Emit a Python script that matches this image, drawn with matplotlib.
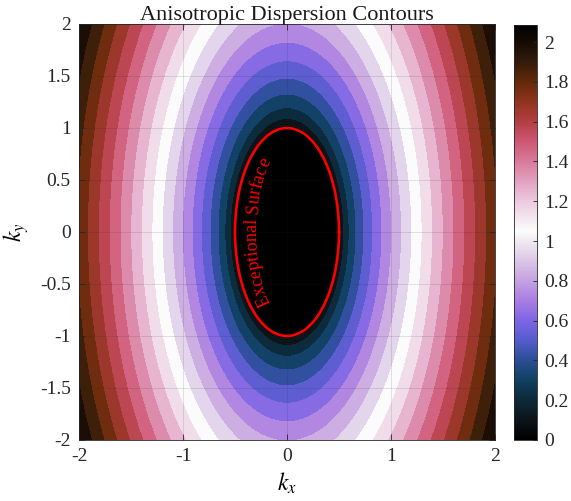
import numpy as np
import matplotlib
matplotlib.use("Agg")
import matplotlib.pyplot as plt
from matplotlib.colors import LinearSegmentedColormap, Normalize
from matplotlib.cm import ScalarMappable
from matplotlib.font_manager import FontProperties
from matplotlib.textpath import TextToPath

plt.rcParams["font.family"] = "Liberation Serif"
plt.rcParams["mathtext.fontset"] = "stix"
plt.rcParams["axes.unicode_minus"] = False

# dispersion surface: E = amp * sqrt((kx/a)^2 + (ky/b)^2 - 1), zero inside
k_lim = [-2, 2]
es_axes = [0.5, 1.0]  # exceptional surface semi-axes (kx, ky)
amp = 0.4786
n_levels = 20

x_ticks = [-2, -1, 0, 1, 2]
y_ticks = [-2, -1.5, -1, -0.5, 0, 0.5, 1, 1.5, 2]
cb_ticks = [0, 0.2, 0.4, 0.6, 0.8, 1, 1.2, 1.4, 1.6, 1.8, 2]

# colormap anchors
cmap_vals = [0.0, 0.10, 0.20, 0.30, 0.40, 0.50, 0.60, 0.70, 0.80, 0.90, 1.00,
             1.05, 1.10, 1.20, 1.30, 1.40, 1.50, 1.60, 1.70, 1.80, 1.90, 2.00, 2.086]
cmap_rgb = [(0, 0, 0), (12, 20, 26), (12, 42, 58), (16, 64, 98), (42, 78, 150),
            (85, 92, 205), (125, 102, 228), (170, 125, 226), (196, 162, 225),
            (218, 198, 230), (240, 234, 242), (252, 252, 252), (245, 235, 242),
            (236, 202, 222), (226, 162, 192), (217, 122, 156), (206, 88, 116),
            (180, 62, 68), (145, 52, 32), (100, 42, 10), (52, 28, 10),
            (22, 12, 5), (0, 0, 0)]

label_text = "Exceptional Surface"
label_axes = [0.29, 0.80]  # baseline ellipse for the curved label


kx = np.linspace(k_lim[0], k_lim[1], 500)
ky = np.linspace(k_lim[0], k_lim[1], 500)
KX, KY = np.meshgrid(kx, ky)
Z = amp * np.sqrt(np.maximum(0, (KX / es_axes[0]) ** 2 + (KY / es_axes[1]) ** 2 - 1))
zmax = Z.max()

cmap = LinearSegmentedColormap.from_list(
    "disp", [(v / cmap_vals[-1], np.array(c) / 255) for v, c in zip(cmap_vals, cmap_rgb)]
)
norm = Normalize(0, zmax)
levels = np.linspace(0, zmax, n_levels + 1)
band_colors = [cmap(norm(v)) for v in levels[:-1]]

W, H = 571, 501
fig = plt.figure(figsize=(W / 100, H / 100), dpi=100)
ax = fig.add_axes([79 / W, 61 / H, 416 / W, 416 / H])
cax = fig.add_axes([514 / W, 61 / H, 23 / W, 415 / H])

ax.contourf(KX, KY, Z, levels=levels, colors=band_colors, zorder=1)

t = np.linspace(0, 2 * np.pi, 400)
ax.plot(es_axes[0] * np.cos(t), es_axes[1] * np.sin(t), color="red", lw=1.9, zorder=3)

ax.set_xlim(k_lim)
ax.set_ylim(k_lim)
ax.set_xticks(x_ticks)
ax.set_yticks(y_ticks)
ax.set_xticklabels(["%g" % v for v in x_ticks])
ax.set_yticklabels(["%g" % v for v in y_ticks])
ax.tick_params(direction="in", top=True, right=True, length=4, width=0.6,
               labelsize=14, colors="#262626", pad=6)
ax.grid(True, color="#262626", alpha=0.15, lw=0.6)
ax.set_axisbelow(False)
for sp in ax.spines.values():
    sp.set_color("#262626")
    sp.set_linewidth(0.6)
    sp.set_zorder(4)
ax.set_title("Anisotropic Dispersion Contours", fontsize=16, color="#1a1a1a", pad=3)
ax.set_xlabel("$k_x$", fontsize=17, labelpad=4)
ax.set_ylabel("$k_y$", fontsize=17, labelpad=6)

# curved label along the inside of the exceptional surface
fs = 13
prop = FontProperties(family="Liberation Serif", style="normal", size=fs)
ttp = TextToPath()
px_per_pt = fig.dpi / 72.0


def text_width(s):
    if not s:
        return 0.0
    return ttp.get_text_width_height_descent(s, prop, ismath=False)[0] * px_per_pt


tt = np.linspace(np.pi + 1.5, np.pi - 1.5, 2000)
pts = np.column_stack([label_axes[0] * np.cos(tt), label_axes[1] * np.sin(tt)])
disp = ax.transData.transform(pts)
seg = np.hypot(np.diff(disp[:, 0]), np.diff(disp[:, 1]))
arc = np.concatenate([[0], np.cumsum(seg)])
s_mid = np.interp(np.pi, tt[::-1], arc[::-1])
total = text_width(label_text)
for i, ch in enumerate(label_text):
    w0 = text_width(label_text[:i])
    w1 = text_width(label_text[:i + 1])
    s = s_mid - total / 2 + (w0 + w1) / 2
    j = np.searchsorted(arc, s)
    j = min(max(j, 1), len(arc) - 2)
    x_d = np.interp(s, arc, disp[:, 0])
    y_d = np.interp(s, arc, disp[:, 1])
    dx = disp[j + 1, 0] - disp[j - 1, 0]
    dy = disp[j + 1, 1] - disp[j - 1, 1]
    rot = np.degrees(np.arctan2(dy, dx))
    xd, yd = ax.transData.inverted().transform((x_d, y_d))
    ax.text(xd, yd, ch, fontproperties=prop, color="red", rotation=rot,
            rotation_mode="anchor", ha="center", va="baseline", zorder=5)

sm = ScalarMappable(norm=norm, cmap=cmap)
cb = fig.colorbar(sm, cax=cax)
cb.set_ticks(cb_ticks)
cb.set_ticklabels(["%g" % v for v in cb_ticks])
cb.ax.tick_params(direction="in", length=3, width=0.6, labelsize=14,
                  colors="#262626", pad=5)
cb.outline.set_edgecolor("#262626")
cb.outline.set_linewidth(0.6)

fig.savefig("out.png", dpi=100)
